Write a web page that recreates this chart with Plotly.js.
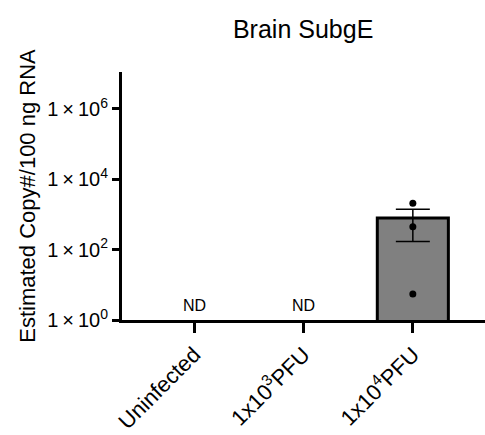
<!DOCTYPE html>
<html>
<head>
<meta charset="utf-8">
<script src="https://cdn.plot.ly/plotly-3.0.1.min.js"></script>
<style>html,body{margin:0;padding:0;background:#fff;}#chart{width:485px;height:435px;}</style>
</head>
<body>
<div id="chart"></div>
<script>
const categories = ["Uninfected", "1x10<sup>3</sup>PFU", "1x10<sup>4</sup>PFU"];
const barMeans = [null, null, 790];
const barSEM = [null, null, 620];
const pointsGroup = [2, 2, 2];
const pointValues = [2100, 450, 5.5];
const ndLabels = ["ND", "ND", ""];
const yTickVals = [1, 100, 10000, 1000000];
const yTickText = ["1\u2009×\u200910<sup>0</sup>", "1\u2009×\u200910<sup>2</sup>", "1\u2009×\u200910<sup>4</sup>", "1\u2009×\u200910<sup>6</sup>"];

const idx = categories.map((c, i) => i);

const traces = [
  {
    type: "bar",
    x: idx,
    y: barMeans,
    width: 0.65,
    marker: {color: "#808080", line: {color: "#000", width: 3}},
    error_y: {type: "data", array: barSEM, visible: true, color: "#000", thickness: 1.5, width: 17},
    hoverinfo: "none"
  },
  {
    type: "scatter",
    mode: "markers",
    x: pointsGroup,
    y: pointValues,
    marker: {color: "#000", size: 7},
    hoverinfo: "none"
  }
];

const annotations = ndLabels.map((t, i) => ({
  x: i, y: 0, xref: "x", yref: "y", text: t, showarrow: false,
  yanchor: "bottom", yshift: 4,
  font: {family: "Arial, Liberation Sans, sans-serif", size: 16, color: "#000"}
})).filter(a => a.text);

const layout = {
  width: 485, height: 435,
  margin: {l: 122, r: 0, t: 72, b: 115},
  paper_bgcolor: "#fff", plot_bgcolor: "#fff",
  showlegend: false,
  font: {family: "Arial, Liberation Sans, sans-serif", color: "#000"},
  title: {text: "Brain SubgE", x: 0.625, xanchor: "center", y: 0.932, yanchor: "middle",
          font: {size: 25, color: "#000"}},
  xaxis: {
    range: [-0.66, 2.66],
    tickvals: idx, ticktext: categories, tickangle: -45,
    ticks: "outside", ticklen: 10, tickwidth: 3, tickcolor: "#000",
    showline: true, linewidth: 3, linecolor: "#000",
    showgrid: false, zeroline: false,
    tickfont: {size: 22, color: "#000"}
  },
  yaxis: {
    type: "log",
    range: [0, 7.05],
    tickvals: yTickVals, ticktext: yTickText,
    ticks: "outside", ticklen: 7, tickwidth: 3, tickcolor: "#000",
    showline: true, linewidth: 3, linecolor: "#000",
    showgrid: false, zeroline: false,
    tickfont: {size: 20, color: "#000"},
    title: {text: "Estimated Copy#/100 ng RNA", font: {size: 22, color: "#000"}, standoff: 6}
  },
  annotations: annotations
};

Plotly.newPlot("chart", traces, layout, {staticPlot: true, displayModeBar: false});
</script>
</body>
</html>
